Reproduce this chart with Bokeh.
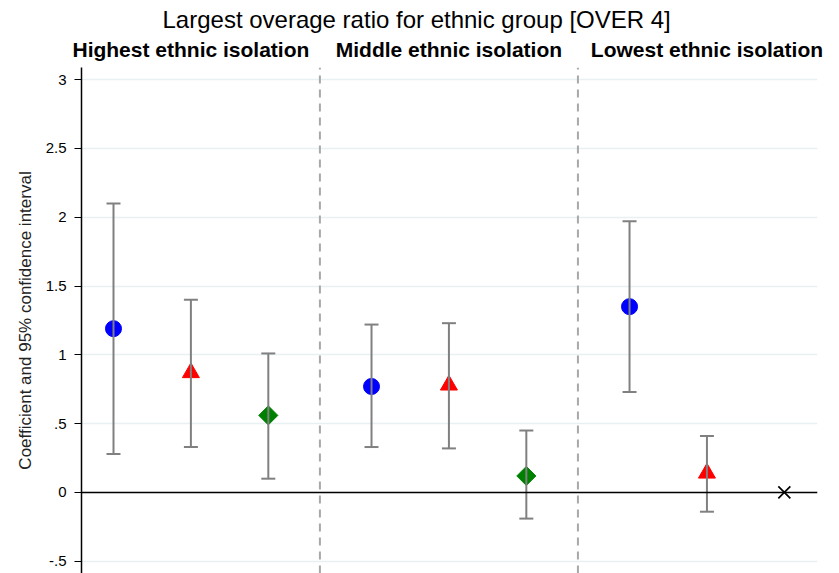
from bokeh.plotting import figure
from bokeh.models import Range1d, FixedTicker, Whisker, TeeHead, ColumnDataSource, LinearAxis, Span
from bokeh.embed import file_html
from bokeh.resources import INLINE
import math

# ---- data ----
groups = ["Highest ethnic isolation", "Middle ethnic isolation", "Lowest ethnic isolation"]
title_text = "Largest overage ratio for ethnic group [OVER 4]"
ylabel = "Coefficient and 95% confidence interval"

blue_coef = [1.19, 0.77, 1.35]
blue_lo = [0.28, 0.33, 0.73]
blue_hi = [2.10, 1.22, 1.97]

red_coef = [0.87, 0.78, 0.14]
red_lo = [0.33, 0.32, -0.14]
red_hi = [1.40, 1.23, 0.41]

green_coef = [0.56, 0.12]
green_lo = [0.10, -0.19]
green_hi = [1.01, 0.45]

omitted_coef = [0.0]          # third group, third series: omitted (X)

yticks = [-0.5, 0, 0.5, 1, 1.5, 2, 2.5, 3]
ytick_labels = ["-.5", "0", ".5", "1", "1.5", "2", "2.5", "3"]

# ---- layout helpers (x in thirds of a slot) ----
def xpos(g, k):
    return g * 10 + 3 * k

FONT = "Liberation Sans"
X_MIN, X_MAX = -1.24, 27.285
Y_MIN, Y_MAX = -0.589, 3.088

p = figure(width=839, height=573, output_backend="svg", toolbar_location=None,
           x_range=Range1d(X_MIN, X_MAX), y_range=Range1d(Y_MIN, Y_MAX),
           x_axis_location=None, min_border_left=81, min_border_right=22,
           min_border_top=67, min_border_bottom=0, outline_line_color=None,
           background_fill_color="white", border_fill_color="white")

p.title.text = title_text
p.title.align = "left"
p.title.offset = 81
p.title.text_font = FONT
p.title.text_font_size = "24px"
p.title.text_font_style = "normal"
p.title.text_color = "black"
p.title.standoff = 3

p.xgrid.visible = False
p.ygrid.ticker = FixedTicker(ticks=yticks)
p.ygrid.grid_line_color = "#e8f0f2"
p.ygrid.grid_line_width = 1.5

ax = p.yaxis[0]
ax.ticker = FixedTicker(ticks=yticks)
ax.major_label_overrides = {t: l for t, l in zip(yticks, ytick_labels)}
ax.axis_line_color = "black"
ax.axis_line_width = 1.5
ax.major_tick_line_color = "black"
ax.major_tick_line_width = 1.2
ax.major_tick_out = 7
ax.major_tick_in = 0
ax.minor_tick_line_color = None
ax.major_label_text_font = FONT
ax.major_label_text_font_size = "15px"
ax.major_label_text_color = "black"
ax.major_label_standoff = 8
ax.axis_label = ylabel
ax.axis_label_text_font = FONT
ax.axis_label_text_font_size = "17px"
ax.axis_label_text_font_style = "normal"
ax.axis_label_text_color = "#222222"
ax.axis_label_standoff = 8

# group headings as an axis above the frame
centers = [xpos(g, 1) for g in range(len(groups))]
top = LinearAxis(ticker=FixedTicker(ticks=centers),
                 major_label_overrides={c: n for c, n in zip(centers, groups)})
top.axis_line_color = None
top.major_tick_line_color = None
top.minor_tick_line_color = None
top.major_tick_out = 0
top.major_tick_in = 0
top.major_label_standoff = 7
top.major_label_text_font = FONT
top.major_label_text_font_size = "21px"
top.major_label_text_font_style = "bold"
top.major_label_text_color = "black"
p.add_layout(top, "above")

# separators and zero line
seps = [(xpos(0, 2) + xpos(1, 0)) / 2, (xpos(1, 2) + xpos(2, 0)) / 2]
p.segment(x0=seps, x1=seps, y0=[Y_MIN] * 2, y1=[Y_MAX] * 2,
          line_color="#a8a8a8", line_width=2, line_dash="8 6")
p.add_layout(Span(location=0, dimension="width", line_color="black", line_width=1.5))

def series(coef, lo, hi, k, marker, color, size, angle=0.0):
    xs = [xpos(g, k) for g in range(len(coef))]
    src = ColumnDataSource(dict(x=xs, y=coef, lo=lo, hi=hi))
    w = Whisker(source=src, base="x", lower="lo", upper="hi", dimension="height",
                line_color="#808080", line_width=2,
                lower_head=TeeHead(size=14, line_color="#808080", line_width=2),
                upper_head=TeeHead(size=14, line_color="#808080", line_width=2),
                level="glyph")
    p.add_layout(w)
    p.scatter("x", "y", source=src, marker=marker, size=size, fill_color=color,
              line_color=color, angle=angle)

series(blue_coef, blue_lo, blue_hi, 0, "circle", "#0000ff", 16)
series(red_coef, red_lo, red_hi, 1, "triangle", "#ff0000", 17)
series(green_coef, green_lo, green_hi, 2, "square", "#008000", 13.5, angle=math.pi / 4)

p.scatter([xpos(2, 2)], omitted_coef, marker="x", size=17, line_color="black", line_width=1.7)

open("out.html", "w").write(file_html(p, INLINE))
